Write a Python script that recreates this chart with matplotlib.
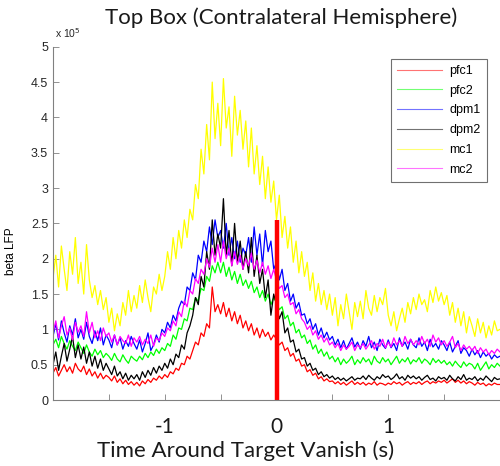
import numpy as np
import matplotlib
matplotlib.use("Agg")
import matplotlib.pyplot as plt

# beta-band LFP power (units of 1e5), sampled every 25 ms from -2 s to 2 s
time = np.linspace(-2.0, 2.0, 161)

pfc1 = [
    0.38, 0.46, 0.34, 0.42, 0.50, 0.40, 0.47, 0.38, 0.52, 0.44,
    0.40, 0.48, 0.36, 0.44, 0.34, 0.40, 0.31, 0.38, 0.30, 0.35,
    0.32, 0.27, 0.34, 0.25, 0.30, 0.23, 0.28, 0.22, 0.26, 0.21,
    0.25, 0.20, 0.27, 0.23, 0.29, 0.25, 0.31, 0.28, 0.34, 0.30,
    0.36, 0.32, 0.40, 0.37, 0.45, 0.42, 0.52, 0.50, 0.62, 0.58,
    0.70, 0.82, 0.78, 0.95, 0.90, 1.08, 1.02, 1.60, 1.25, 1.35,
    1.22, 1.38, 1.18, 1.30, 1.12, 1.25, 1.08, 1.20, 1.02, 1.12,
    0.98, 1.08, 0.92, 1.02, 0.88, 1.00, 0.90, 0.96, 0.85, 0.92,
    0.86, 0.78, 0.82, 0.70, 0.74, 0.62, 0.66, 0.55, 0.58, 0.48,
    0.50, 0.40, 0.43, 0.35, 0.38, 0.30, 0.33, 0.27, 0.30, 0.26,
    0.27, 0.23, 0.26, 0.22, 0.25, 0.21, 0.24, 0.27, 0.22, 0.25,
    0.22, 0.25, 0.21, 0.24, 0.22, 0.26, 0.21, 0.24, 0.23, 0.21,
    0.24, 0.22, 0.26, 0.23, 0.25, 0.21, 0.24, 0.26, 0.22, 0.25,
    0.23, 0.26, 0.22, 0.25, 0.27, 0.23, 0.26, 0.24, 0.27, 0.25,
    0.28, 0.24, 0.27, 0.30, 0.25, 0.28, 0.24, 0.27, 0.23, 0.26,
    0.24, 0.21, 0.25, 0.22, 0.24, 0.20, 0.23, 0.21, 0.24, 0.22,
    0.22,
]

pfc2 = [
    0.78, 0.86, 0.74, 0.90, 0.80, 0.72, 0.84, 0.76, 0.70, 0.82,
    0.74, 0.66, 0.78, 0.68, 0.62, 0.72, 0.64, 0.70, 0.60, 0.66,
    0.62, 0.56, 0.66, 0.58, 0.54, 0.64, 0.57, 0.52, 0.62, 0.58,
    0.55, 0.62, 0.57, 0.66, 0.60, 0.68, 0.63, 0.72, 0.66, 0.74,
    0.70, 0.80, 0.76, 0.92, 0.86, 1.02, 1.00, 1.15, 1.12, 1.30,
    1.28, 1.45, 1.40, 1.58, 1.55, 1.75, 1.68, 1.90, 1.80, 1.95,
    1.80, 1.95, 1.75, 1.88, 1.70, 1.82, 1.65, 1.78, 1.62, 1.70,
    1.58, 1.68, 1.52, 1.60, 1.45, 1.55, 1.40, 1.50, 1.35, 1.45,
    1.38, 1.28, 1.32, 1.15, 1.20, 1.05, 1.10, 0.95, 1.00, 0.88,
    0.92, 0.80, 0.85, 0.72, 0.78, 0.66, 0.72, 0.62, 0.68, 0.58,
    0.62, 0.54, 0.60, 0.50, 0.58, 0.52, 0.56, 0.62, 0.50, 0.57,
    0.52, 0.60, 0.54, 0.58, 0.50, 0.62, 0.55, 0.52, 0.60, 0.54,
    0.58, 0.50, 0.56, 0.62, 0.52, 0.58, 0.54, 0.60, 0.51, 0.57,
    0.54, 0.60, 0.52, 0.58, 0.55, 0.50, 0.59, 0.53, 0.57, 0.52,
    0.56, 0.50, 0.54, 0.48, 0.55, 0.50, 0.46, 0.54, 0.48, 0.52,
    0.50, 0.44, 0.52, 0.42, 0.48, 0.54, 0.44, 0.50, 0.46, 0.52,
    0.48,
]

dpm1 = [
    0.90, 1.08, 0.85, 1.12, 0.95, 0.82, 1.05, 0.92, 1.15, 0.88,
    1.00, 0.86, 1.10, 0.90, 0.80, 0.98, 0.84, 1.02, 0.78, 0.92,
    0.85, 0.74, 0.92, 0.78, 0.88, 0.72, 0.84, 0.76, 0.90, 0.80,
    0.72, 0.85, 0.68, 0.80, 0.95, 0.70, 0.78, 0.92, 0.82, 1.00,
    0.95, 1.10, 1.02, 1.20, 1.12, 1.30, 1.40, 1.35, 1.60, 1.55,
    1.80, 1.70, 2.05, 1.95, 2.25, 2.10, 2.45, 2.20, 2.55, 2.30,
    2.40, 2.15, 2.50, 2.05, 2.30, 2.00, 2.25, 1.95, 2.15, 2.05,
    2.30, 1.95, 2.45, 2.05, 2.35, 1.90, 2.40, 2.10, 2.25, 1.85,
    1.95, 1.70, 1.85, 1.55, 1.65, 1.40, 1.50, 1.30, 1.38, 1.20,
    1.22, 1.08, 1.15, 1.00, 1.08, 0.92, 1.02, 0.88, 0.96, 0.85,
    0.90, 0.78, 0.86, 0.74, 0.84, 0.72, 0.80, 0.88, 0.75, 0.82,
    0.72, 0.84, 0.76, 0.90, 0.74, 0.82, 0.70, 0.86, 0.78, 0.73,
    0.85, 0.74, 0.80, 0.70, 0.88, 0.76, 0.82, 0.72, 0.86, 0.78,
    0.74, 0.88, 0.76, 0.82, 0.70, 0.86, 0.75, 0.80, 0.72, 0.84,
    0.78, 0.70, 0.82, 0.68, 0.76, 0.84, 0.66, 0.74, 0.70, 0.62,
    0.72, 0.64, 0.70, 0.60, 0.68, 0.62, 0.66, 0.58, 0.64, 0.60,
    0.62,
]

dpm2 = [
    0.50, 0.68, 0.42, 0.62, 0.80, 0.55, 0.72, 0.90, 0.60, 0.78,
    0.58, 0.75, 0.52, 0.68, 0.48, 0.62, 0.45, 0.58, 0.42, 0.52,
    0.44, 0.36, 0.48, 0.34, 0.40, 0.30, 0.38, 0.28, 0.35, 0.30,
    0.36, 0.28, 0.40, 0.32, 0.42, 0.35, 0.46, 0.38, 0.48, 0.42,
    0.52, 0.45, 0.58, 0.50, 0.65, 0.60, 0.78, 0.72, 0.95, 1.05,
    1.20, 1.45, 1.35, 1.75, 1.60, 2.10, 1.85, 2.55, 2.05, 2.35,
    2.15, 2.85, 2.05, 2.40, 1.90, 2.50, 1.95, 2.25, 1.85, 2.10,
    1.80, 2.30, 1.75, 2.05, 1.65, 1.85, 1.45, 1.70, 1.20, 1.50,
    1.35, 1.15, 1.25, 0.95, 1.02, 0.82, 0.85, 0.68, 0.72, 0.58,
    0.60, 0.48, 0.52, 0.42, 0.45, 0.36, 0.40, 0.33, 0.36, 0.31,
    0.34, 0.29, 0.32, 0.28, 0.31, 0.27, 0.30, 0.33, 0.28, 0.31,
    0.30, 0.34, 0.29, 0.35, 0.31, 0.28, 0.33, 0.30, 0.36, 0.32,
    0.34, 0.29, 0.32, 0.37, 0.30, 0.33, 0.28, 0.35, 0.31, 0.34,
    0.30, 0.33, 0.28, 0.32, 0.35, 0.29, 0.31, 0.27, 0.33, 0.30,
    0.32, 0.28, 0.35, 0.30, 0.27, 0.33, 0.29, 0.36, 0.28, 0.31,
    0.29, 0.33, 0.27, 0.31, 0.28, 0.34, 0.30, 0.26, 0.32, 0.29,
    0.30,
]

mc1 = [
    1.72, 2.05, 1.60, 2.18, 1.85, 1.55, 2.10, 1.78, 2.30, 1.65,
    1.95, 1.50, 2.20, 1.70, 1.45, 1.62, 1.35, 1.55, 1.28, 1.45,
    1.10, 1.30, 0.98, 1.22, 1.05, 1.38, 1.20, 1.55, 1.25, 1.48,
    1.30, 1.62, 1.38, 1.70, 1.45, 1.25, 1.60, 1.50, 1.78, 1.55,
    1.75, 2.10, 1.85, 2.30, 2.00, 2.40, 2.15, 2.55, 2.30, 2.70,
    2.55, 3.05, 2.85, 3.55, 3.20, 3.90, 3.40, 4.50, 3.70, 4.20,
    3.60, 4.55, 3.85, 4.15, 3.45, 4.30, 3.75, 4.10, 3.55, 3.95,
    3.30, 3.85, 3.20, 3.60, 3.05, 3.45, 2.85, 3.30, 2.80, 3.10,
    2.55, 2.90, 2.30, 2.60, 2.15, 2.45, 1.95, 2.25, 1.80, 2.10,
    1.75, 1.95, 1.55, 1.80, 1.40, 1.65, 1.35, 1.55, 1.28, 1.50,
    1.20, 1.45, 1.05, 1.35, 1.15, 1.50, 1.25, 1.00, 1.38, 1.18,
    1.40, 1.15, 1.55, 1.30, 1.20, 1.48, 1.25, 1.45, 1.35, 1.58,
    1.20, 1.05, 1.25, 0.98, 1.15, 1.30, 1.10, 1.38, 1.22, 1.45,
    1.28, 1.50, 1.35, 1.42, 1.25, 1.55, 1.38, 1.60, 1.40, 1.52,
    1.35, 1.48, 1.20, 1.38, 1.10, 1.30, 1.05, 1.25, 0.95, 1.18,
    1.05, 0.90, 1.15, 0.95, 1.10, 0.88, 1.05, 0.92, 1.12, 0.98,
    1.00,
]

mc2 = [
    0.95, 1.12, 0.88, 1.05, 1.18, 0.92, 1.02, 0.85, 1.10, 0.96,
    1.05, 0.90, 1.25, 0.95, 1.10, 0.88, 0.98, 0.84, 1.02, 0.90,
    0.95, 0.82, 0.92, 0.78, 0.90, 0.84, 0.80, 0.92, 0.76, 0.88,
    0.82, 0.90, 0.78, 0.86, 0.80, 0.92, 0.76, 0.88, 0.84, 0.95,
    0.90, 1.02, 0.98, 1.12, 1.05, 1.25, 1.18, 1.40, 1.32, 1.55,
    1.50, 1.72, 1.65, 1.85, 1.78, 2.00, 1.88, 2.15, 1.95, 2.20,
    1.95, 2.25, 2.00, 2.15, 1.90, 2.10, 1.92, 2.05, 1.85, 2.00,
    1.90, 2.08, 1.85, 1.98, 1.80, 1.95, 1.78, 1.90, 1.72, 1.85,
    1.70, 1.58, 1.62, 1.45, 1.50, 1.35, 1.38, 1.22, 1.28, 1.15,
    1.10, 1.00, 1.05, 0.92, 0.98, 0.86, 0.92, 0.82, 0.88, 0.78,
    0.82, 0.74, 0.80, 0.70, 0.78, 0.72, 0.76, 0.82, 0.70, 0.78,
    0.74, 0.80, 0.72, 0.78, 0.84, 0.72, 0.80, 0.76, 0.86, 0.74,
    0.82, 0.75, 0.88, 0.78, 0.84, 0.76, 0.90, 0.80, 0.86, 0.78,
    0.84, 0.78, 0.90, 0.80, 0.86, 0.76, 0.92, 0.82, 0.88, 0.78,
    0.84, 0.76, 0.82, 0.90, 0.74, 0.80, 0.70, 0.78, 0.72, 0.76,
    0.70, 0.76, 0.66, 0.74, 0.68, 0.72, 0.64, 0.70, 0.66, 0.72,
    0.68,
]

series = [
    ("pfc1", pfc1, "#ff0000"),
    ("pfc2", pfc2, "#00ff00"),
    ("dpm1", dpm1, "#0000ff"),
    ("dpm2", dpm2, "#000000"),
    ("mc1", mc1, "#ffff00"),
    ("mc2", mc2, "#ff00ff"),
]

# marker for the target vanish event
vanish_time = 0.0
vanish_height = 2.55

tick_font = "Liberation Sans"
label_font = "Lato"

fig = plt.figure(figsize=(5.0, 4.66), dpi=100)
ax = fig.add_axes([0.106, 0.1416, 0.894, 0.758])

for name, values, color in series:
    ax.plot(time, values, color=color, linewidth=0.9, label=name)

ax.plot([vanish_time, vanish_time], [0, vanish_height], color="#ff0000",
        linewidth=3.2, solid_capstyle="butt")

ax.set_xlim(-2, 2)
ax.set_ylim(0, 5)

# box off, grey axis lines, ticks pointing in
for side in ("top", "right"):
    ax.spines[side].set_visible(False)
for side in ("left", "bottom"):
    ax.spines[side].set_color("#808080")
    ax.spines[side].set_linewidth(0.8)
ax.tick_params(direction="in", length=4, width=0.6, color="#808080")

ax.set_yticks(np.arange(0, 5.01, 0.5))
ax.set_yticklabels(["0", "0.5", "1", "1.5", "2", "2.5", "3", "3.5", "4", "4.5", "5"],
                   fontfamily=tick_font, fontsize=9, color="#262626")

xticks = [-1.5, -1, -0.5, 0, 0.5, 1, 1.5]
ax.set_xticks(xticks)
ax.set_xticklabels(["", "-1", "", "0", "", "1", ""],
                   fontfamily=label_font, fontsize=15, color="#1a1a1a")
ax.tick_params(axis="x", pad=12)

ax.set_xlabel("Time Around Target Vanish (s)", fontfamily=label_font,
              fontsize=16, color="#1a1a1a")
ax.xaxis.set_label_coords(0.43, -0.113)
ax.set_ylabel("beta LFP", fontfamily=tick_font, fontsize=8.5)
ax.yaxis.set_label_coords(-0.08, 0.42)

ax.text(0.005, 1.018, r"x 10$^5$", transform=ax.transAxes, fontfamily=tick_font,
        fontsize=7.5, color="#262626", ha="left", va="bottom")

fig.text(0.562, 0.961, "Top Box (Contralateral Hemisphere)", fontfamily=label_font,
         fontsize=16, color="#1a1a1a", ha="center", va="center")

leg = ax.legend(loc="upper right", bbox_to_anchor=(0.985, 0.984), fancybox=False,
                edgecolor="#707070", framealpha=1.0, borderpad=0.5,
                handlelength=3.6, handletextpad=0.6, labelspacing=0.62,
                prop={"family": tick_font, "size": 9})
leg.get_frame().set_linewidth(0.8)
for line in leg.get_lines():
    line.set_linewidth(0.8)
    line.set_alpha(0.55)

fig.savefig("out.png", dpi=100)
